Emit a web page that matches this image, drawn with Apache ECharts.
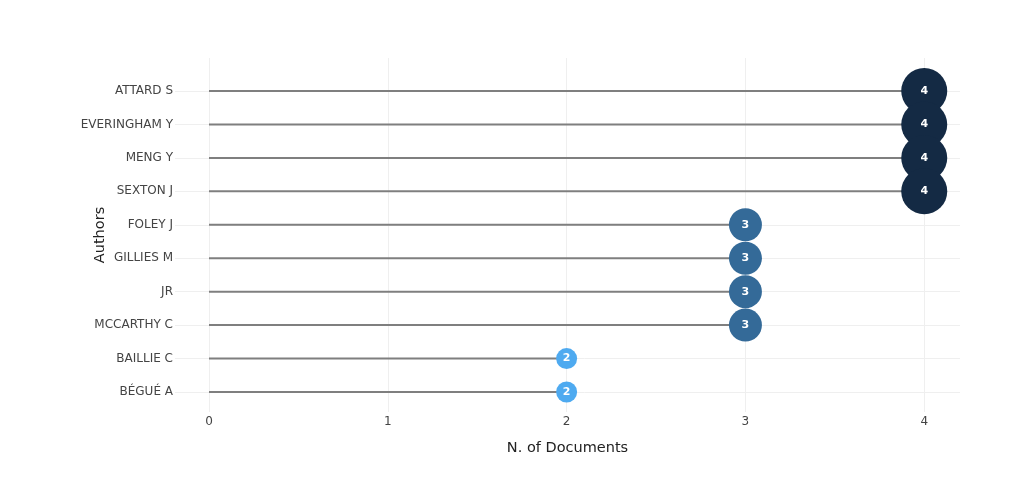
<!DOCTYPE html>
<html>
<head>
<meta charset="utf-8">
<script src="https://cdn.jsdelivr.net/npm/echarts@6/dist/echarts.min.js"></script>
<style>
html,body{margin:0;padding:0;background:#fff;}
#chart{width:1026px;height:485px;}
</style>
</head>
<body>
<div id="chart"></div>
<script>
const authors = ['ATTARD S','EVERINGHAM Y','MENG Y','SEXTON J','FOLEY J','GILLIES M','JR','MCCARTHY C','BAILLIE C','BÉGUÉ A'];
const docs = [4,4,4,4,3,3,3,3,2,2];
const xTicks = [0,1,2,3,4];

const FONT = 'DejaVu Sans';
const colorFor = v => v >= 4 ? '#142a44' : (v >= 3 ? '#346a98' : '#4eaaf0');
const sizeFor = v => v >= 4 ? 46 : (v >= 3 ? 33 : 21);
const grid = '#efefef';

const chart = echarts.init(document.getElementById('chart'), null, {renderer:'canvas'});
chart.setOption({
  animation:false,
  backgroundColor:'#fff',
  grid:[
    {left:209, right:66, top:91, bottom:93},
    {left:209, right:66, top:58, bottom:73}
  ],
  xAxis:[
    {gridIndex:0, type:'value', min:0, max:4.2, interval:1, show:false},
    {gridIndex:1, type:'value', min:0, max:4.2, interval:1,
     axisLine:{show:false}, axisTick:{show:false},
     axisLabel:{color:'#444', fontSize:12, fontFamily:FONT, margin:4,
       formatter: v => xTicks.indexOf(v) >= 0 ? String(v) : ''},
     splitLine:{show:true, lineStyle:{color:[grid,grid,grid,grid,grid,'rgba(0,0,0,0)'], width:1}},
     name:'N. of Documents', nameLocation:'middle', nameGap:29,
     nameTextStyle:{color:'#222', fontSize:14.5, fontFamily:FONT, padding:[0,34,0,0]}}
  ],
  yAxis:[
    {gridIndex:0, type:'category', data:authors, inverse:true, boundaryGap:false,
     axisLine:{show:false},
     axisTick:{show:true, length:34, lineStyle:{color:grid}},
     axisLabel:{color:'#444', fontSize:12, fontFamily:FONT, margin:36},
     splitLine:{show:true, lineStyle:{color:grid}}},
    {gridIndex:1, type:'value', min:0, max:1,
     axisLine:{show:false}, axisTick:{show:false}, axisLabel:{show:false}, splitLine:{show:false},
     name:'Authors', nameLocation:'middle', nameRotate:90, nameGap:101,
     nameTextStyle:{color:'#222', fontSize:14.5, fontFamily:FONT}}
  ],
  series:[
    {type:'bar', xAxisIndex:0, yAxisIndex:0, data:docs, barWidth:2,
     itemStyle:{color:'#7f7f7f'}, silent:true},
    {type:'scatter', xAxisIndex:0, yAxisIndex:0, data:docs,
     symbol:'circle', symbolSize: v => sizeFor(v),
     itemStyle:{color: p => colorFor(p.value), opacity:1},
     label:{show:true, position:'inside', color:'#fff', fontSize:11, fontWeight:'bold', fontFamily:FONT,
       formatter: p => String(p.value)}}
  ]
});
</script>
</body>
</html>
